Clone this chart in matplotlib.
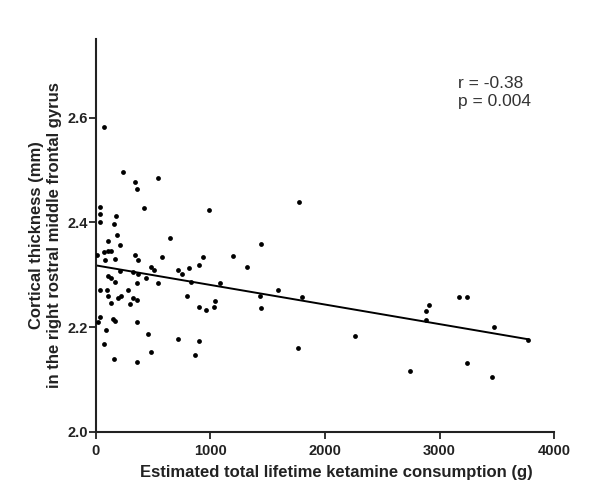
import numpy as np
import matplotlib
matplotlib.use("Agg")
import matplotlib.pyplot as plt

# data (g, mm)
KETAMINE_G = [68, 232, 343, 360, 540, 31, 33, 39, 179, 156, 421, 185, 107, 214, 645,
              13, 72, 107, 135, 77, 170, 345, 363, 579, 479, 503, 719, 753, 811, 107,
              135, 214, 325, 369, 441, 360, 170, 544, 278, 38, 96, 107, 188, 217, 135,
              325, 360, 295, 791, 33, 19, 150, 164, 360, 86, 456, 719, 68, 479, 156,
              360, 1770, 990, 1438, 1199, 934, 896, 1318, 826, 1080, 1587, 1429, 1799,
              896, 960, 1030, 1036, 1438, 896, 861, 1764, 2266, 2740, 2878, 2906, 2878,
              3166, 3239, 3236, 3477, 3455, 3774]
THICKNESS_MM = [2.582, 2.496, 2.477, 2.464, 2.484, 2.430, 2.416, 2.400, 2.413, 2.397,
                2.428, 2.376, 2.365, 2.357, 2.370, 2.337, 2.343, 2.346, 2.346, 2.328,
                2.331, 2.338, 2.328, 2.333, 2.314, 2.309, 2.309, 2.302, 2.312, 2.298,
                2.294, 2.308, 2.306, 2.302, 2.294, 2.285, 2.287, 2.285, 2.271, 2.270,
                2.270, 2.259, 2.256, 2.260, 2.246, 2.256, 2.252, 2.245, 2.259, 2.220,
                2.209, 2.215, 2.212, 2.209, 2.195, 2.187, 2.177, 2.168, 2.153, 2.140,
                2.133, 2.439, 2.423, 2.359, 2.335, 2.333, 2.319, 2.314, 2.287, 2.284,
                2.271, 2.259, 2.258, 2.239, 2.233, 2.239, 2.249, 2.237, 2.174, 2.147,
                2.160, 2.183, 2.117, 2.231, 2.243, 2.214, 2.258, 2.258, 2.132, 2.201,
                2.105, 2.176]
X_TICKS = [0, 1000, 2000, 3000, 4000]
Y_TICKS = [2.0, 2.2, 2.4, 2.6]
STATS_TEXT = "r = -0.38\np = 0.004"

plt.rcParams["font.family"] = ["Liberation Sans", "DejaVu Sans"]

x = np.array(KETAMINE_G, dtype=float)
y = np.array(THICKNESS_MM)

fig = plt.figure(figsize=(5.9, 4.87), dpi=100)
ax = fig.add_axes([0.1627, 0.113, 0.7763, 0.807])

ax.scatter(x, y, s=12, color="black", zorder=3, linewidths=0)

# least squares fit line over the data range
slope, intercept = np.polyfit(x, y, 1)
xs = np.array([0, x.max()])
ax.plot(xs, intercept + slope * xs, color="black", linewidth=1.4)

ax.set_xlim(0, 4000)
ax.set_ylim(2.0, 2.75)
ax.set_xticks(X_TICKS)
ax.set_yticks(Y_TICKS)
ax.set_yticklabels([f"{v:.1f}" for v in Y_TICKS])

for side in ["top", "right"]:
    ax.spines[side].set_visible(False)
for side in ["left", "bottom"]:
    ax.spines[side].set_linewidth(1.5)
    ax.spines[side].set_color("#222222")
ax.tick_params(direction="out", length=5, width=1.3, colors="#222222", labelsize=10.5)
ax.tick_params(axis="x", pad=4)
ax.tick_params(axis="y", pad=1)
for lbl in ax.get_xticklabels() + ax.get_yticklabels():
    lbl.set_fontweight("bold")

ax.set_xlabel("Estimated total lifetime ketamine consumption (g)",
              fontsize=12, fontweight="bold", color="#222222", labelpad=5)
ax.xaxis.label.set_x(0.525)
ax.set_ylabel("Cortical thickness (mm)\nin the right rostral middle frontal gyrus",
              fontsize=12, fontweight="bold", color="#222222", labelpad=4)

ax.text(0.79, 0.905, STATS_TEXT, transform=ax.transAxes, fontsize=12.5,
        color="#333333", va="top", ha="left", linespacing=1.25)

fig.savefig("out.png", dpi=100, facecolor="white")
